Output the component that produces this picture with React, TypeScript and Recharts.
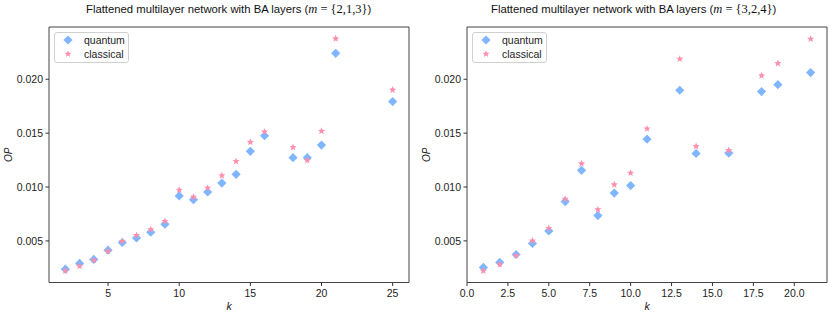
import React from 'react';
import { ScatterChart, Scatter, XAxis, YAxis, ReferenceArea } from 'recharts';

// left panel, m = {2,1,3}
const kLeft = [2, 3, 4, 5, 6, 7, 8, 9, 10, 11, 12, 13, 14, 15, 16, 18, 19, 20, 21, 25];
const quantumLeft = [
  0.00238, 0.00291, 0.00328, 0.00414, 0.00485, 0.00528, 0.00581, 0.00655, 0.00917, 0.00883,
  0.00954, 0.01037, 0.01118, 0.01331, 0.01476, 0.01272, 0.01272, 0.01389, 0.02241, 0.01793,
];
const classicalLeft = [
  0.00222, 0.00266, 0.00321, 0.00405, 0.00497, 0.00553, 0.00606, 0.00682, 0.00972, 0.00907,
  0.00991, 0.01106, 0.01238, 0.01417, 0.01513, 0.01368, 0.01247, 0.01519, 0.02377, 0.01902,
];

// right panel, m = {3,2,4}
const kRight = [1, 2, 3, 4, 5, 6, 7, 8, 9, 10, 11, 13, 14, 16, 18, 19, 21];
const quantumRight = [
  0.00254, 0.003, 0.00374, 0.00476, 0.00593, 0.00865, 0.01155, 0.00735, 0.00944, 0.01013,
  0.01444, 0.01898, 0.01312, 0.01315, 0.01886, 0.0195, 0.02062,
];
const classicalRight = [
  0.00222, 0.00281, 0.00365, 0.005, 0.00618, 0.00889, 0.01217, 0.00791, 0.01022, 0.0113,
  0.01541, 0.02188, 0.01378, 0.0134, 0.02034, 0.02148, 0.02374,
];

const yTicks = [0.005, 0.01, 0.015, 0.02];
const xTicksLeft = [5, 10, 15, 20, 25];
const xTicksRight = [0, 2.5, 5, 7.5, 10, 12.5, 15, 17.5, 20];

const QUANTUM_COLOR = '#80b6ff';
const CLASSICAL_COLOR = '#ff8dac';
const FONT = '"Liberation Sans", Arial, sans-serif';

const Y_DOMAIN: [number, number] = [0.00114, 0.02485];

const toPoints = (ks: number[], vals: number[]) => ks.map((k, i) => ({ k, op: vals[i] }));

const Diamond = (props: any) => {
  const { cx, cy } = props;
  const r = 4.6;
  return (
    <polygon
      points={`${cx},${cy - r} ${cx + r},${cy} ${cx},${cy + r} ${cx - r},${cy}`}
      fill={QUANTUM_COLOR}
    />
  );
};

const starPoints = (cx: number, cy: number, ro: number, ri: number) => {
  const pts: string[] = [];
  for (let i = 0; i < 10; i++) {
    const r = i % 2 === 0 ? ro : ri;
    const a = -Math.PI / 2 + (i * Math.PI) / 5;
    pts.push(`${cx + r * Math.cos(a)},${cy + r * Math.sin(a)}`);
  }
  return pts.join(' ');
};

const Star = (props: any) => {
  const { cx, cy } = props;
  return <polygon points={starPoints(cx, cy, 3.8, 1.6)} fill={CLASSICAL_COLOR} />;
};

const yLabel = (props: any) => {
  const { viewBox } = props;
  const x = viewBox.x + viewBox.width - 41;
  const y = viewBox.y + viewBox.height / 2;
  return (
    <text
      x={x}
      y={y}
      transform={`rotate(-90 ${x} ${y})`}
      textAnchor="middle"
      dominantBaseline="central"
      fontSize={10}
      fontStyle="italic"
      fontFamily={FONT}
      fill="#222"
    >
      OP
    </text>
  );
};

const xLabel = (props: any) => {
  const { viewBox } = props;
  return (
    <text
      x={viewBox.x + viewBox.width / 2}
      y={viewBox.y + 23}
      textAnchor="middle"
      dominantBaseline="central"
      fontSize={10.5}
      fontStyle="italic"
      fontFamily={FONT}
      fill="#222"
    >
      k
    </text>
  );
};

function LegendBox({ left }: { left: number }) {
  return (
    <div
      style={{
        position: 'absolute',
        left,
        top: 32,
        width: 73,
        height: 29,
        border: '1px solid #d0d0d0',
        borderRadius: 3,
        background: 'rgba(255,255,255,0.8)',
        fontFamily: FONT,
        fontSize: 10.5,
        color: '#222',
      }}
    >
      <svg width={20} height={29} style={{ position: 'absolute', left: 4, top: 0 }}>
        <polygon points="9,2.4 13.6,7 9,11.6 4.4,7" fill={QUANTUM_COLOR} />
        <polygon points={starPoints(9, 21, 3.8, 1.6)} fill={CLASSICAL_COLOR} />
      </svg>
      <div style={{ position: 'absolute', left: 29, top: 0, lineHeight: '14px' }}>quantum</div>
      <div style={{ position: 'absolute', left: 29, top: 14, lineHeight: '14px' }}>classical</div>
    </div>
  );
}

function Title({ left, sets }: { left: number; sets: string }) {
  return (
    <div
      style={{
        position: 'absolute',
        left,
        top: 2,
        lineHeight: '14px',
        whiteSpace: 'nowrap',
        fontFamily: FONT,
        fontSize: 11.3,
        color: '#111',
      }}
    >
      Flattened multilayer network with BA layers (
      <span style={{ fontFamily: '"Liberation Serif", "DejaVu Serif", serif', fontSize: 12.5 }}>
        <i>m</i> = {sets}
      </span>
      )
    </div>
  );
}

function Panel({
  ks,
  quantum,
  classical,
  xDomain,
  xTicks,
  yAxisWidth,
  rightMargin,
  fmtX,
}: {
  ks: number[];
  quantum: number[];
  classical: number[];
  xDomain: [number, number];
  xTicks: number[];
  yAxisWidth: number;
  rightMargin: number;
  fmtX: (v: number) => string;
}) {
  return (
    <ScatterChart width={415} height={313} margin={{ top: 27, right: rightMargin, bottom: 0, left: 0 }}>
      <XAxis
        type="number"
        dataKey="k"
        domain={xDomain}
        ticks={xTicks}
        allowDataOverflow
        height={30.5}
        axisLine={false}
        tickLine={{ stroke: '#333' }}
        tickSize={3.5}
        tickMargin={3.5}
        tick={{ fontSize: 10.5, fill: '#222', fontFamily: FONT }}
        tickFormatter={fmtX}
        label={xLabel}
      />
      <YAxis
        type="number"
        dataKey="op"
        domain={Y_DOMAIN}
        ticks={yTicks}
        allowDataOverflow
        width={yAxisWidth}
        axisLine={false}
        tickLine={{ stroke: '#333' }}
        tickSize={3.5}
        tickMargin={2.5}
        tick={{ fontSize: 10.5, fill: '#222', fontFamily: FONT }}
        tickFormatter={(v: number) => v.toFixed(3)}
        label={yLabel}
      />
      <Scatter data={toPoints(ks, quantum)} shape={Diamond} isAnimationActive={false} />
      <Scatter data={toPoints(ks, classical)} shape={Star} isAnimationActive={false} />
      <ReferenceArea
        x1={xDomain[0]}
        x2={xDomain[1]}
        y1={Y_DOMAIN[0]}
        y2={Y_DOMAIN[1]}
        fill="none"
        stroke="#444"
        strokeWidth={1}
        ifOverflow="visible"
      />
    </ScatterChart>
  );
}

export default function App() {
  return (
    <div style={{ position: 'relative', width: 830, height: 313, background: '#fff', fontFamily: FONT }}>
      <style>{'body{margin:0}'}</style>
      <div style={{ position: 'absolute', left: 0, top: 0 }}>
        <Panel
          ks={kLeft}
          quantum={quantumLeft}
          classical={classicalLeft}
          xDomain={[0.85, 26.15]}
          xTicks={xTicksLeft}
          yAxisWidth={49}
          rightMargin={6}
          fmtX={(v) => String(v)}
        />
      </div>
      <div style={{ position: 'absolute', left: 415, top: 0 }}>
        <Panel
          ks={kRight}
          quantum={quantumRight}
          classical={classicalRight}
          xDomain={[0, 22]}
          xTicks={xTicksRight}
          yAxisWidth={52}
          rightMargin={3}
          fmtX={(v) => v.toFixed(1)}
        />
      </div>
      <Title left={86} sets="{2,1,3}" />
      <Title left={491} sets="{3,2,4}" />
      <LegendBox left={54} />
      <LegendBox left={472} />
    </div>
  );
}
